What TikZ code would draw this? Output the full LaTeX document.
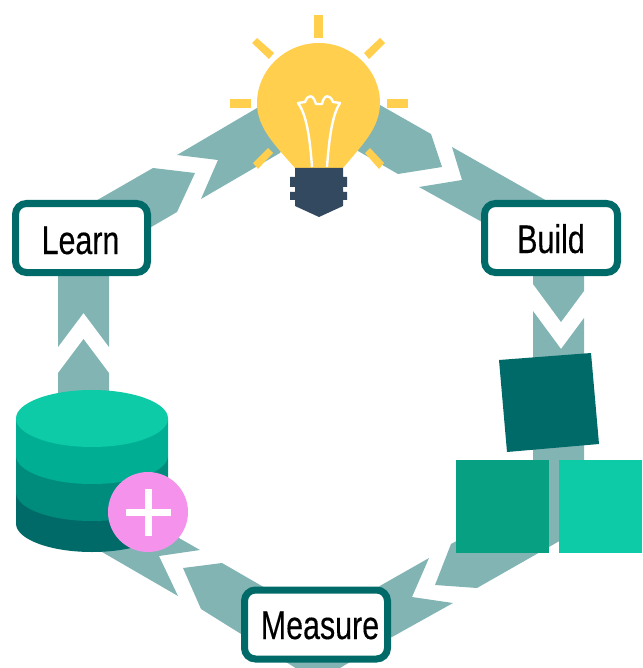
\documentclass[tikz,border=0pt]{standalone}
\usepackage{fontspec}
\setmainfont[FakeStretch=0.76,FakeBold=0.25]{Liberation Sans}
\definecolor{band}{HTML}{82B4B4}
\definecolor{teala}{HTML}{0DCBA6}
\definecolor{tealb}{HTML}{00AE93}
\definecolor{tealc}{HTML}{008C7C}
\definecolor{teald}{HTML}{006A68}
\definecolor{sqgreen}{HTML}{08A083}
\definecolor{bulb}{HTML}{FFCF4D}
\definecolor{socket}{HTML}{33495F}
\definecolor{pink}{HTML}{F492EC}
\tikzset{
  seg/.style={fill=band,draw=none},
  ray/.style={fill=bulb,draw=none},
  stage/.style={draw=teald,fill=white,line width=7pt,rounded corners=11pt,
    inner sep=0pt,minimum height=69pt,font=\fontsize{40}{40}\selectfont,text depth=4pt},
}
\begin{document}
\begin{tikzpicture}[x=1pt,y=-1pt]
\useasboundingbox (0,0) rectangle (642,668);
\clip (0,0) rectangle (642,668);
% band segments
\fill[seg] (177,155) -- (257,108) -- (300,120) -- (280,153) -- (201,199) -- (218,160) -- cycle;
\fill[seg] (153,168) -- (195,173) -- (177,212) -- (110,251) -- (80,210) -- cycle;
\fill[seg] (58,260) -- (109,260) -- (109,347) -- (83.5,313) -- (58,347) -- cycle;
\fill[seg] (58,373) -- (83.5,339) -- (109,373) -- (109,410) -- (58,410) -- cycle;
\fill[seg] (380,105) -- (431,134) -- (442,167) -- (398,174) -- (358,151) -- (340,120) -- cycle;
\fill[seg] (452,147) -- (462,180) -- (419,187) -- (500,232) -- (570,232) -- (570,214) -- cycle;
\fill[seg] (533,260) -- (584,260) -- (584,291) -- (561,322) -- (533,284) -- cycle;
\fill[seg] (533,311) -- (561,349) -- (584,318) -- (584,527) -- (477,588) -- (435,585) -- (451,544) -- (533,500) -- cycle;
\fill[seg] (429,558) -- (412,597) -- (453,603) -- (392,637) -- (350,640) -- (350,600) -- (378,587) -- cycle;
\fill[seg] (200,550) -- (159,556) -- (178,596) -- (102,552) -- (130,510) -- cycle;
\fill[seg] (183,568) -- (222,563) -- (300,608) -- (360,640) -- (350,662) -- (325,677) -- (310,677) -- (201,609) -- cycle;
% bulb
\foreach \a/\b/\c/\d in {314/15/323/38,230/99/251/108,387/99/408/108}
  \fill[ray] (\a,\b) rectangle (\c,\d);
\fill[ray] (257,38) -- (274,53) -- (269,59) -- (252,43) -- cycle;
\fill[ray] (380,38) -- (385,43) -- (369,59) -- (364,53) -- cycle;
\fill[ray] (268,148) -- (273,153) -- (258,169) -- (253,163) -- cycle;
\fill[ray] (370,148) -- (384,163) -- (379,169) -- (365,153) -- cycle;
\fill[bulb] (295,168) .. controls (275,145) and (257,128) .. (257,103)
  .. controls (257,70) and (285,43) .. (319,43)
  .. controls (352,43) and (380,70) .. (380,103)
  .. controls (380,128) and (362,145) .. (343,168) -- cycle;
\draw[white,line width=2.4pt,line join=round]
  (312,167) .. controls (310,140) and (307,115) .. (298,103)
  -- (305,102) .. controls (308,94) and (313,94) .. (316,104) -- (322,104)
  .. controls (324,94) and (330,94) .. (333,102) -- (340,103)
  .. controls (332,115) and (329,140) .. (327,167);
\fill[socket] (295,168) -- (343,168) -- (343,177) -- (347,177) -- (347,187) -- (343,187) -- (343,192) -- (347,192) -- (347,200) -- (343,200) -- (343,206) -- (319,217) -- (295,206) -- (295,200) -- (290,200) -- (290,192) -- (295,192) -- (295,187) -- (290,187) -- (290,177) -- (295,177) -- cycle;
% stages
\node[stage,text height=36pt,minimum width=132pt] (learn) at (81.5,238) {Learn\hspace*{2pt}};
\node[stage,text height=34pt,minimum width=133pt] (build) at (551,238) {Build};
\node[stage,text height=33pt,minimum width=143pt] (measure) at (316,624.5) {\hspace*{8pt}Measure};
% blocks
\fill[teald] (499,360) -- (591,353) -- (599,444) -- (507,452) -- cycle;
\fill[sqgreen] (456,460) rectangle (549,553);
\fill[teala] (559,460) rectangle (642,553);
% database
\fill[teald] (16,492.5) -- (16,523.5) arc[start angle=180,end angle=0,x radius=76,y radius=28.5] -- (168,492.5) -- cycle;
\fill[tealc] (16,455.5) -- (16,492.5) arc[start angle=180,end angle=0,x radius=76,y radius=28.5] -- (168,455.5) -- cycle;
\fill[tealb] (16,418.5) -- (16,455.5) arc[start angle=180,end angle=0,x radius=76,y radius=28.5] -- (168,418.5) -- cycle;
\fill[teala] (92,418.5) ellipse[x radius=76,y radius=28.5];
% plus badge
\fill[pink] (148,512) circle[radius=40];
\fill[white] (126,509) rectangle (171,516);
\fill[white] (145,489) rectangle (152,536);
\end{tikzpicture}
\end{document}
